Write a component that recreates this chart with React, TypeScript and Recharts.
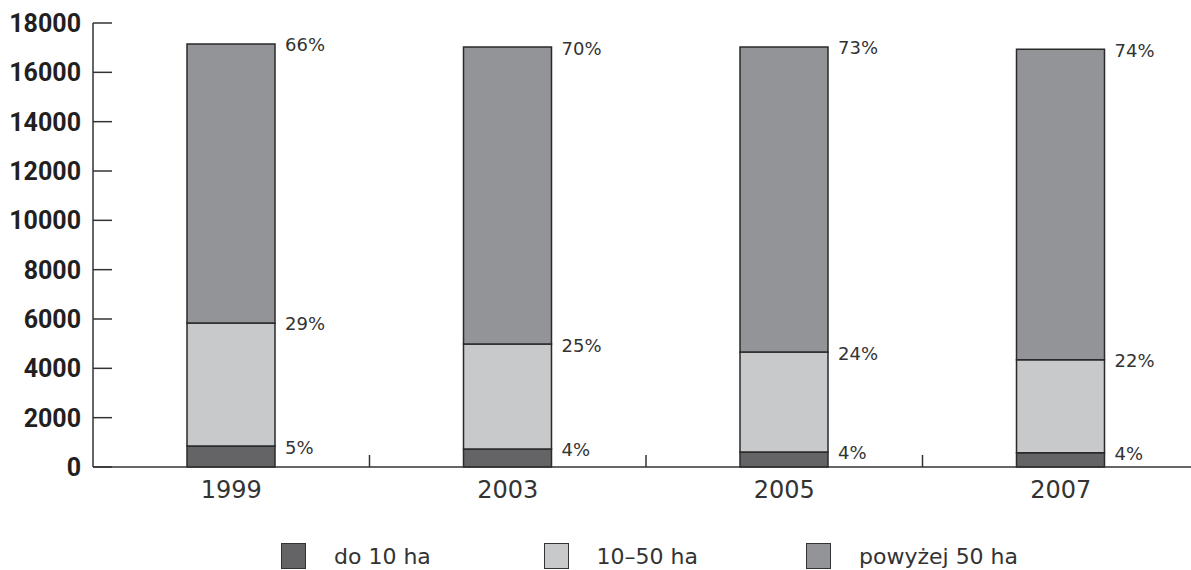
import { BarChart, Bar, XAxis, YAxis, Legend, LabelList } from 'recharts';

const YEARS = ['1999', '2003', '2005', '2007'];
const SMALL = [850, 730, 610, 580];
const MEDIUM = [4990, 4256, 4050, 3770];
const LARGE = [11310, 12040, 12370, 12590];
const SMALL_PCT = ['5%', '4%', '4%', '4%'];
const MEDIUM_PCT = ['29%', '25%', '24%', '22%'];
const LARGE_PCT = ['66%', '70%', '73%', '74%'];
const Y_TICKS = [0, 2000, 4000, 6000, 8000, 10000, 12000, 14000, 16000, 18000];

const SERIES = [
  { key: 'small', pct: 'smallPct', name: 'do 10 ha', color: '#646466' },
  { key: 'medium', pct: 'mediumPct', name: '10–50 ha', color: '#c8c9cb' },
  { key: 'large', pct: 'largePct', name: 'powyżej 50 ha', color: '#939498' },
];

const data = YEARS.map((year, i) => ({
  year,
  small: SMALL[i],
  medium: MEDIUM[i],
  large: LARGE[i],
  smallPct: SMALL_PCT[i],
  mediumPct: MEDIUM_PCT[i],
  largePct: LARGE_PCT[i],
}));

const INK = '#231f20';
const LINE = '#333333';
const X_TICK_GAP = 14;

const renderPct = (props: any) => {
  const { x, y, width, value } = props;
  return (
    <text
      x={Number(x) + Number(width) + 10}
      y={Number(y) + 1}
      dominantBaseline="central"
      fontFamily="DejaVu Sans"
      fontSize={18}
      fill="#333"
    >
      {value}
    </text>
  );
};

// year label plus the short upright mark on the band's right edge
const YearTick = (props: any) => {
  const { x, y, payload, index, width, visibleTicksCount } = props;
  const half = payload.offset ?? width / (2 * (visibleTicksCount || YEARS.length));
  const edge = x + half;
  const axisY = y - X_TICK_GAP;
  return (
    <g>
      <text x={x} y={y} dy="0.71em" textAnchor="middle" fontFamily="DejaVu Sans" fontSize={24} fill="#333">
        {payload.value}
      </text>
      {index < YEARS.length - 1 && (
        <line x1={edge} x2={edge} y1={axisY} y2={axisY - 12} stroke={LINE} strokeWidth={1.5} />
      )}
    </g>
  );
};

// legend is laid out by hand so the swatches sit where the original has them
const renderLegend = () => (
  <div style={{ height: 50, position: 'relative', fontFamily: 'DejaVu Sans', fontSize: 22, color: '#333' }}>
    {SERIES.map((s, i) => (
      <div
        key={s.key}
        style={{ position: 'absolute', left: 281 + i * 262.5, top: 23, display: 'flex', alignItems: 'center' }}
      >
        <div
          style={{
            width: 25,
            height: 26,
            boxSizing: 'border-box',
            background: s.color,
            border: '1.5px solid #333',
            marginRight: 28,
          }}
        />
        <span>{s.name}</span>
      </div>
    ))}
  </div>
);

export default function App() {
  return (
    <div style={{ position: 'absolute', left: 0, top: 0, width: 1191, height: 570, overflow: 'hidden', background: '#fff' }}>
      <BarChart width={1199} height={570} data={data} margin={{ top: 23, right: 0, left: 0, bottom: 0 }}>
        <XAxis
          dataKey="year"
          tickLine={false}
          tickSize={0}
          tickMargin={X_TICK_GAP}
          height={53}
          interval={0}
          axisLine={{ stroke: LINE, strokeWidth: 1.5 }}
          tick={<YearTick />}
        />
        <YAxis
          width={93}
          domain={[0, 18000]}
          ticks={Y_TICKS}
          interval={0}
          tickSize={-19}
          tickMargin={31}
          axisLine={{ stroke: LINE, strokeWidth: 1.5 }}
          tickLine={{ stroke: LINE, strokeWidth: 1.5 }}
          tick={{ fontFamily: 'Roboto', fontWeight: 700, fontSize: 25, fill: INK }}
        />
        <Legend verticalAlign="bottom" content={renderLegend} />
        {SERIES.map((s) => (
          <Bar
            key={s.key}
            dataKey={s.key}
            name={s.name}
            stackId="a"
            fill={s.color}
            stroke="#2a2a2a"
            strokeWidth={1.5}
            barSize={88}
            isAnimationActive={false}
          >
            <LabelList dataKey={s.pct} content={renderPct} />
          </Bar>
        ))}
      </BarChart>
    </div>
  );
}
